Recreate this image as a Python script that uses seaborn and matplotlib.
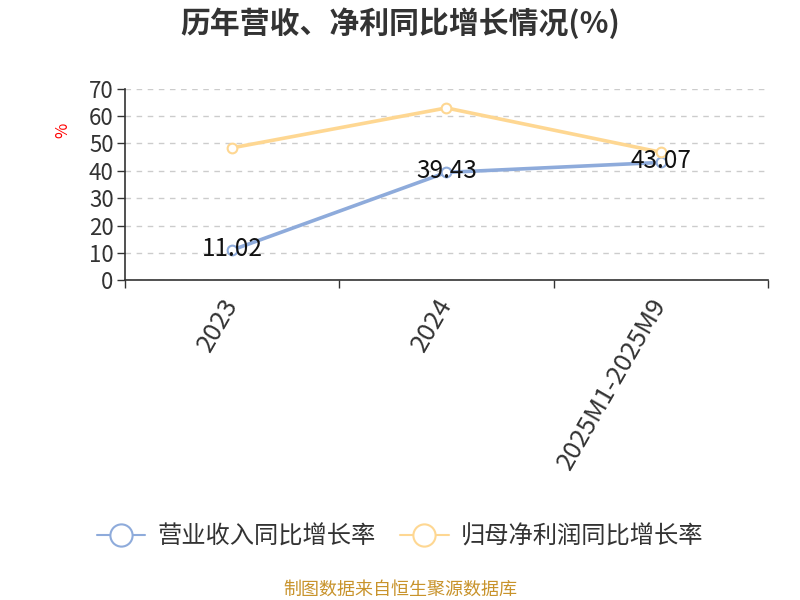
import pandas as pd
import matplotlib
matplotlib.use("Agg")
import matplotlib.pyplot as plt
import seaborn as sns

periods = ["2023", "2024", "2025M1-2025M9"]
revenue_growth = [11.02, 39.43, 43.07]
profit_growth = [48.4, 63.0, 46.8]
series_names = ["营业收入同比增长率", "归母净利润同比增长率"]

df = pd.DataFrame({
    "period": periods * 2,
    "x": list(range(len(periods))) * 2,
    "value": revenue_growth + profit_growth,
    "series": [series_names[0]] * 3 + [series_names[1]] * 3,
})

sns.set_theme(style="white")
plt.rcParams["font.family"] = ["Noto Sans CJK SC", "DejaVu Sans"]

fig = plt.figure(figsize=(8, 6), dpi=100)
ax = fig.add_axes([0.156, 0.533, 0.804, 0.319])

palette = {series_names[0]: "#8eabdb", series_names[1]: "#fed792"}
for name in series_names:
    sub = df[df["series"] == name]
    sns.lineplot(data=sub, x="x", y="value", color=palette[name],
                 marker="o", markersize=7, markerfacecolor="white",
                 markeredgecolor=palette[name], markeredgewidth=1.5,
                 linewidth=2.6, ax=ax, legend=False, clip_on=False)

for i, v in enumerate(revenue_growth):
    ax.text(i, v + 0.5, f"{v:.2f}", ha="center", va="center",
            fontsize=17.5, color="#111111")

ax.set_xlim(-0.5, len(periods) - 0.5)
ax.set_ylim(0, 70)
ax.set_yticks(range(0, 71, 10))
ax.yaxis.grid(True, linestyle=(0, (4, 4)), color="#cccccc", linewidth=1)
ax.set_axisbelow(True)

ax.set_xticks(range(len(periods)))
ax.set_xticklabels(periods, rotation=60, ha="right", va="center",
                   rotation_mode="anchor", fontsize=18.5, color="#333333")
ax.set_xticks([i - 0.5 for i in range(len(periods) + 1)], minor=True)
ax.tick_params(axis="x", which="major", length=0, pad=14)
ax.tick_params(axis="x", which="minor", length=6, width=1, color="#333333",
               direction="out", bottom=True)
ax.tick_params(axis="y", length=6, width=1, color="#333333", direction="out",
               left=True, labelsize=16, labelcolor="#333333", pad=2)

for s in ["top", "right"]:
    ax.spines[s].set_visible(False)
for s in ["left", "bottom"]:
    ax.spines[s].set_color("#333333")
    ax.spines[s].set_linewidth(1.2)

ax.set_xlabel("")
ax.set_ylabel("")
fig.text(0.078, 0.783, "%", color="red", fontsize=12, rotation=90,
         ha="center", va="center")

fig.text(0.5, 0.962, "历年营收、净利同比增长情况(%)", ha="center", va="center",
         fontsize=21.5, fontweight="bold", color="#333333")

handles = [
    plt.Line2D([], [], color=palette[n], marker="o", markersize=16,
               markerfacecolor="white", markeredgewidth=1.5, linewidth=1.5)
    for n in series_names
]
fig.legend(handles, series_names, loc="center", bbox_to_anchor=(0.5, 0.105),
           ncol=2, frameon=False, fontsize=17.5, handlelength=2.0,
           columnspacing=1.0, handletextpad=0.5, labelcolor="#333333")

fig.text(0.5, 0.017, "制图数据来自恒生聚源数据库", ha="center", va="center",
         fontsize=13, color="#c8932b")

fig.savefig("out.png", dpi=100)
